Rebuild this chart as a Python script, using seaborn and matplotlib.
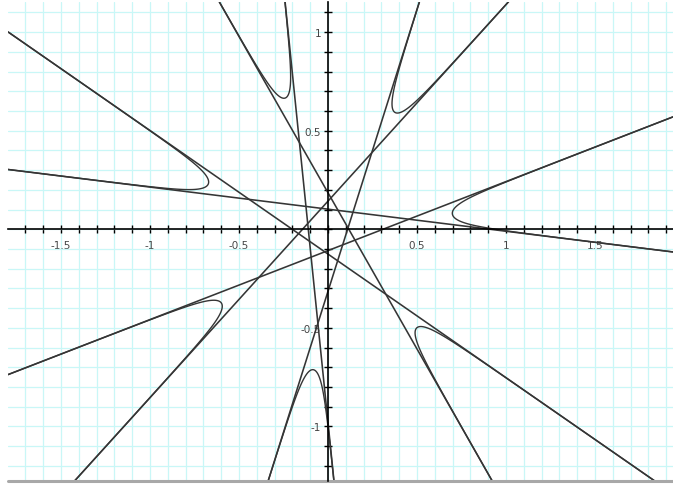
import numpy as np
import pandas as pd
import matplotlib
matplotlib.use("Agg")
import matplotlib.pyplot as plt
from matplotlib.ticker import MultipleLocator, FuncFormatter
import seaborn as sns

# Seven straight lines y = m*x + k, and the perturbed curve
# prod(y - m*x - k) = LEVEL whose branches hug them.
LINE_NAMES = ["L1", "L2", "L3", "L4", "L5", "L6", "L7"]
SLOPES = [-0.112, -0.627, 0.350, 0.997, 2.86, -1.585, -8.85]
INTERCEPTS = [0.102, -0.126, -0.108, 0.143, -0.314, 0.185, -0.982]
LEVEL = -0.018

X_TICK_LABELS = [-1.5, -1, -0.5, 0.5, 1, 1.5]
Y_TICK_LABELS = [-1, -0.5, 0.5, 1]

XLIM = (-1.798, 1.938)
YLIM = (-1.277, 1.153)

GRID = "#c9f7f7"
INK = "#353535"

sns.set_theme(style="white", rc={"grid.color": GRID})
plt.rcParams["font.family"] = ["DejaVu Sans"]

fig = plt.figure(figsize=(6.73, 4.85), dpi=100)
ax = fig.add_axes([8 / 673, 3 / 485, 665 / 673, 479 / 485])
ax.set_xlim(*XLIM)
ax.set_ylim(*YLIM)

# straight lines, drawn across the full x-range
rows = []
for name, m, k in zip(LINE_NAMES, SLOPES, INTERCEPTS):
    for x in XLIM:
        rows.append({"line": name, "x": x, "y": m * x + k})
lines_df = pd.DataFrame(rows)
sns.lineplot(data=lines_df, x="x", y="y", units="line", estimator=None,
             sort=False, color=INK, lw=1.15, ax=ax, legend=False)

# implicit curve: product of the line equations equal to a small constant
gx = np.linspace(XLIM[0], XLIM[1], 1800)
gy = np.linspace(YLIM[0], YLIM[1], 1600)
GX, GY = np.meshgrid(gx, gy)
F = np.ones_like(GX)
for m, k in zip(SLOPES, INTERCEPTS):
    F *= GY - m * GX - k
ax.contour(GX, GY, F, levels=[LEVEL], colors=INK, linewidths=1.0,
           linestyles="solid")

# graph-paper grid every 0.1
ax.xaxis.set_minor_locator(MultipleLocator(0.1))
ax.yaxis.set_minor_locator(MultipleLocator(0.1))
ax.set_xticks(X_TICK_LABELS)
ax.set_yticks(Y_TICK_LABELS)
fmt = FuncFormatter(lambda v, _: f"{v:g}")
ax.xaxis.set_major_formatter(fmt)
ax.yaxis.set_major_formatter(fmt)
ax.grid(which="both", color=GRID, lw=0.9)
ax.set_axisbelow(True)

# axes through the origin
for side in ("top", "right"):
    ax.spines[side].set_visible(False)
for side in ("left", "bottom"):
    ax.spines[side].set_position("zero")
    ax.spines[side].set_color("black")
    ax.spines[side].set_linewidth(1.2)
ax.tick_params(which="both", bottom=True, left=True, top=False, right=False,
               direction="inout", length=6, width=1.0, color="black",
               labelsize=7.5, labelcolor="#444444")
ax.tick_params(axis="x", which="both", pad=5)
ax.tick_params(axis="y", which="both", pad=2)
ax.set_xlabel("")
ax.set_ylabel("")

# grey rule along the bottom edge
ax.axhline(YLIM[0], color="#a8a8a8", lw=2.2, clip_on=False)

fig.savefig("out.png", dpi=100)
